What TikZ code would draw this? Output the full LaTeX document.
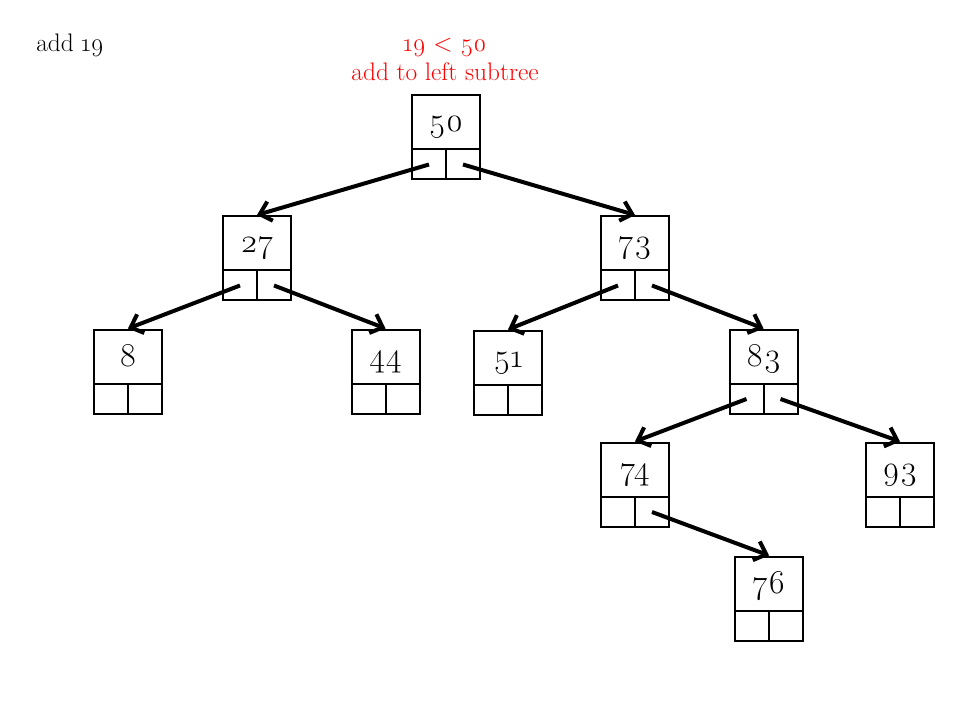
\documentclass[tikz,border=0pt]{standalone}
\usepackage{fontspec}
\setmainfont{Latin Modern Roman}[Numbers=OldStyle]
\usetikzlibrary{arrows.meta,calc}

% A search-tree node: key cell on top, two child-pointer cells below.
% #1 name, #2 x, #3 y (centre), #4 key
\newcommand\bstnode[4]{%
  \node[keybox] (#1) at (#2,#3) {};
  \node[keylabel] (#1-key) at ($(#1.north)+(0,38)$) {#4};
  \draw[cellline] ($(#1.south west)+(0,-31)$) -- ($(#1.south east)+(0,-31)$);
  \draw[cellline] (#1.south) -- ($(#1.south)+(0,-31)$);
  \coordinate (#1-l) at ($(#1.south)+(-17,-15.5)$);
  \coordinate (#1-r) at ($(#1.south)+(17,-15.5)$);
}

\begin{document}
\begin{tikzpicture}[x=0.75pt,y=-0.75pt,
  keybox/.style={draw,line width=1.5pt,minimum width=51pt,minimum height=63pt,inner sep=0pt},
  cellline/.style={line width=1.5pt},
  keylabel/.style={anchor=base,inner sep=0pt,font=\fontsize{25}{29}\selectfont},
  link/.style={line width=3pt,-{Straight Barb[length=8pt,width=15pt]}},
  note/.style={inner sep=0pt,anchor=base,font=\fontsize{19}{23}\selectfont}]
\useasboundingbox (0,0) rectangle (960,720);

% captions
\node[note,anchor=base west] (task) at (36,52) {add 19};
\node[note,red] (cmp) at (445,52) {19 < 50};
\node[note,red] (rule) at (445,81) {add to left subtree};

% nodes
\bstnode{n50}{446}{137}{50}
\bstnode{n27}{257}{258}{27}
\bstnode{n73}{635}{258}{73}
\bstnode{n8}{128}{371.5}{8}
\bstnode{n44}{385.5}{371.5}{44}
\bstnode{n51}{508}{372.5}{51}
\bstnode{n83}{763.5}{371.5}{83}
\bstnode{n74}{635}{484.5}{74}
\bstnode{n93}{900}{484.5}{93}
\bstnode{n76}{769}{598.5}{76}

% child pointers
\draw[link] (n50-l) -- (n27.north);
\draw[link] (n50-r) -- (n73.north);
\draw[link] (n27-l) -- (n8.north);
\draw[link] (n27-r) -- (n44.north);
\draw[link] (n73-l) -- (n51.north);
\draw[link] (n73-r) -- (n83.north);
\draw[link] (n83-l) -- (n74.north);
\draw[link] (n83-r) -- (n93.north);
\draw[link] (n74-r) -- (n76.north);
\end{tikzpicture}
\end{document}
